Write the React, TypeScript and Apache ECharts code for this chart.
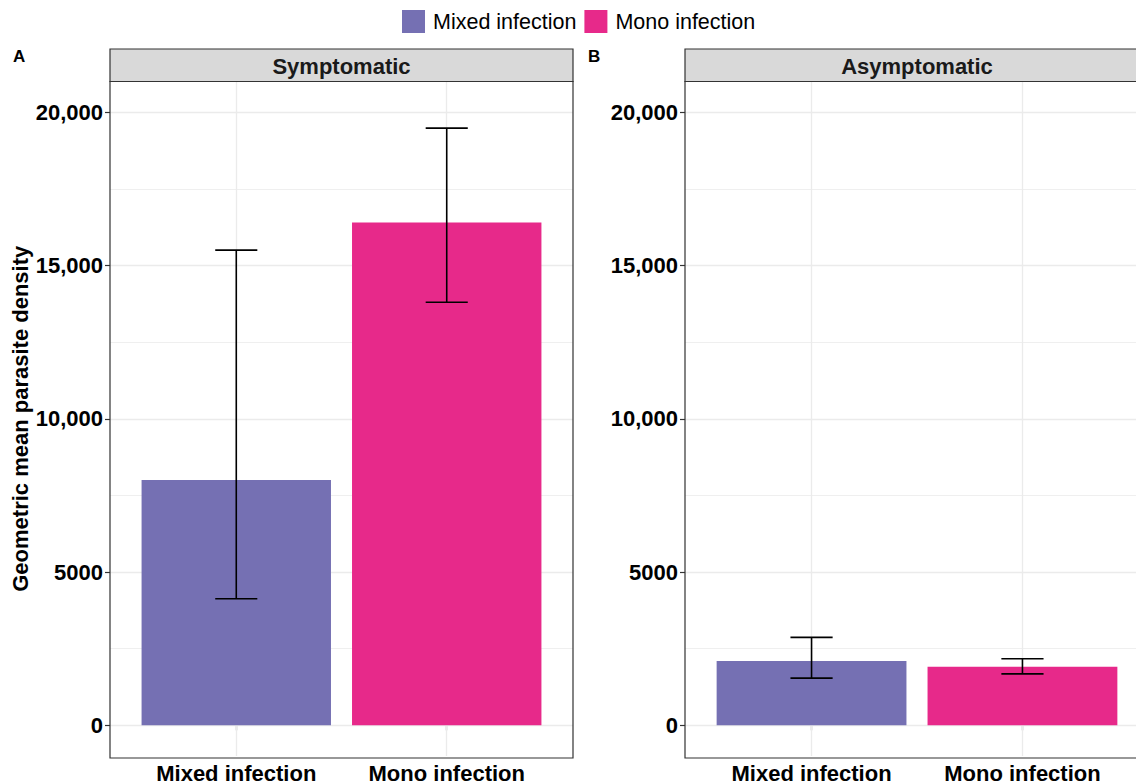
import React, { useEffect, useRef } from 'react';
import * as echarts from 'echarts';

const categories = ['Mixed infection', 'Mono infection'];
const panelTitles = ['Symptomatic', 'Asymptomatic'];
const panelTags = ['A', 'B'];
const symptomaticMeans = [8000, 16400];
const symptomaticLower = [4130, 13800];
const symptomaticUpper = [15500, 19480];
const asymptomaticMeans = [2100, 1910];
const asymptomaticLower = [1540, 1680];
const asymptomaticUpper = [2870, 2170];
const yTicks = [0, 5000, 10000, 15000, 20000];
const yMinorGrid = [2500, 7500, 12500, 17500];
const colors = ['#7570B3', '#E7298A'];

const means = [symptomaticMeans, asymptomaticMeans];
const lowers = [symptomaticLower, asymptomaticLower];
const uppers = [symptomaticUpper, asymptomaticUpper];

const FONT = '"Liberation Sans", Arial, Helvetica, sans-serif';
const W = 1136;
const H = 784;
const PLOT_TOP = 81.5;
const PLOT_BOTTOM = 758;
const STRIP_TOP = 49;
const X_MIN = 0.4;
const X_MAX = 2.6;
// full (unclipped) panel extents; the right panel runs past the page edge
const panelsX = [
  { left: 110, width: 463 },
  { left: 685, width: 464 },
];
// visible part of each panel and the x-range it covers
const panelsVisible = panelsX.map((p) => {
  const unit = p.width / (X_MAX - X_MIN);
  const visWidth = Math.min(p.width, W - p.left);
  return { left: p.left, width: visWidth, unit, xMax: X_MIN + visWidth / unit };
});

function fmt(v: number): string {
  if (v >= 10000) return v.toLocaleString('en-US');
  return String(v);
}

export default function App() {
  const ref = useRef<HTMLDivElement>(null);
  useEffect(() => {
    if (!ref.current) return;
    const chart = echarts.init(ref.current, null, { renderer: 'svg' });

    const grids = panelsVisible.map((p) => ({
      left: p.left,
      width: p.width,
      top: PLOT_TOP,
      height: PLOT_BOTTOM - PLOT_TOP,
      show: true,
      backgroundColor: '#ffffff',
      borderWidth: 0,
    }));

    const xAxes = panelsVisible.map((p, i) => ({
      type: 'value',
      gridIndex: i,
      min: X_MIN,
      max: p.xMax,
      axisLine: { show: false },
      splitLine: { show: false },
      axisTick: {
        show: true,
        length: 5,
        customValues: categories.map((_, c) => c + 1),
        lineStyle: { color: '#333333', width: 1.2 },
      },
      axisLabel: {
        show: true,
        customValues: categories.map((_, c) => c + 1),
        formatter: (v: number) => categories[Math.round(v) - 1] ?? '',
        margin: 6,
        color: '#000000',
        fontSize: 22,
        fontWeight: 'bold',
        fontFamily: FONT,
      },
    }));

    const yAxes = panelsVisible.map((_, i) => ({
      type: 'value',
      gridIndex: i,
      min: -1000,
      max: 21000,
      name: i === 0 ? 'Geometric mean parasite density' : '',
      nameLocation: 'middle',
      nameGap: 78,
      nameTextStyle: {
        fontSize: 22,
        fontWeight: 'bold',
        color: '#000000',
        fontFamily: FONT,
      },
      axisLine: { show: false },
      splitLine: { show: false },
      axisTick: {
        show: true,
        length: 5,
        customValues: yTicks,
        lineStyle: { color: '#333333', width: 1.2 },
      },
      axisLabel: {
        show: true,
        customValues: yTicks,
        formatter: (v: number) => fmt(v),
        margin: 7,
        color: '#000000',
        fontSize: 22,
        fontWeight: 'bold',
        fontFamily: FONT,
      },
    }));

    const series: any[] = [];
    panelsVisible.forEach((p, i) => {
      series.push({
        type: 'line',
        xAxisIndex: i,
        yAxisIndex: i,
        data: [],
        z: 1,
        silent: true,
        markLine: {
          silent: true,
          z: 1,
          symbol: ['none', 'none'],
          label: { show: false },
          animation: false,
          data: [
            ...yTicks.map((v) => ({ yAxis: v, lineStyle: { color: '#ebebeb', width: 1.3, type: 'solid' } })),
            ...yMinorGrid.map((v) => ({ yAxis: v, lineStyle: { color: '#ebebeb', width: 0.8, type: 'solid' } })),
            ...categories.map((_, c) => ({ xAxis: c + 1, lineStyle: { color: '#ebebeb', width: 1.3, type: 'solid' } })),
          ],
        },
      });
      categories.forEach((cat, c) => {
        series.push({
          type: 'bar',
          name: cat,
          xAxisIndex: i,
          yAxisIndex: i,
          barWidth: p.unit * 0.9,
          barGap: '-100%',
          z: 2,
          itemStyle: { color: colors[c] },
          data: [[c + 1, means[i][c]]],
        });
      });
      series.push({
        type: 'custom',
        xAxisIndex: i,
        yAxisIndex: i,
        z: 6,
        silent: true,
        encode: { x: 0, y: [1, 2] },
        data: categories.map((_, c) => [c + 1, lowers[i][c], uppers[i][c]]),
        renderItem: (params: any, api: any) => {
          const x = api.value(0);
          const lo = api.value(1);
          const hi = api.value(2);
          const pLo = api.coord([x, lo]);
          const pHi = api.coord([x, hi]);
          const half = api.size([0.1, 0])[0];
          const style = { stroke: '#000000', lineWidth: 1.6 };
          return {
            type: 'group',
            children: [
              { type: 'line', shape: { x1: pHi[0], y1: pHi[1], x2: pLo[0], y2: pLo[1] }, style },
              { type: 'line', shape: { x1: pHi[0] - half, y1: pHi[1], x2: pHi[0] + half, y2: pHi[1] }, style },
              { type: 'line', shape: { x1: pLo[0] - half, y1: pLo[1], x2: pLo[0] + half, y2: pLo[1] }, style },
            ],
          };
        },
      });
    });

    const graphics: any[] = [];
    panelsX.forEach((p, i) => {
      graphics.push({
        type: 'rect',
        shape: { x: p.left, y: PLOT_TOP, width: p.width, height: PLOT_BOTTOM - PLOT_TOP },
        style: { fill: 'none', stroke: '#333333', lineWidth: 1.2 },
        silent: true,
        z: 9,
      });
      graphics.push({
        type: 'rect',
        shape: { x: p.left, y: STRIP_TOP, width: p.width, height: PLOT_TOP - STRIP_TOP },
        style: { fill: '#d9d9d9', stroke: '#333333', lineWidth: 1.2 },
        z: 10,
      });
      graphics.push({
        type: 'text',
        x: p.left + p.width / 2,
        y: (STRIP_TOP + PLOT_TOP) / 2 + 1,
        style: {
          text: panelTitles[i],
          fill: '#1a1a1a',
          font: `bold 22px ${FONT}`,
          textAlign: 'center',
          textVerticalAlign: 'middle',
        },
        z: 11,
      });
    });
    graphics.push({
      type: 'text',
      x: 13,
      y: 56,
      style: { text: panelTags[0], fill: '#000', font: `bold 17px ${FONT}`, textAlign: 'left', textVerticalAlign: 'middle' },
    });
    graphics.push({
      type: 'text',
      x: 588,
      y: 56,
      style: { text: panelTags[1], fill: '#000', font: `bold 17px ${FONT}`, textAlign: 'left', textVerticalAlign: 'middle' },
    });

    chart.setOption({
      animation: false,
      backgroundColor: '#ffffff',
      legend: {
        data: categories.map((c, idx) => ({ name: c, itemStyle: { color: colors[idx] } })),
        left: 402,
        top: 10,
        padding: 0,
        itemWidth: 23,
        itemHeight: 23,
        itemGap: 8,
        icon: 'rect',
        selectedMode: false,
        textStyle: { fontSize: 21.5, color: '#000000', fontFamily: FONT, padding: [0, 0, 0, 3] },
      },
      grid: grids,
      xAxis: xAxes,
      yAxis: yAxes,
      series,
      graphic: graphics,
    });
    return () => chart.dispose();
  }, []);
  return (
    <div
      ref={ref}
      style={{ position: 'fixed', left: 0, top: 0, width: W, height: H, background: '#fff' }}
    />
  );
}
